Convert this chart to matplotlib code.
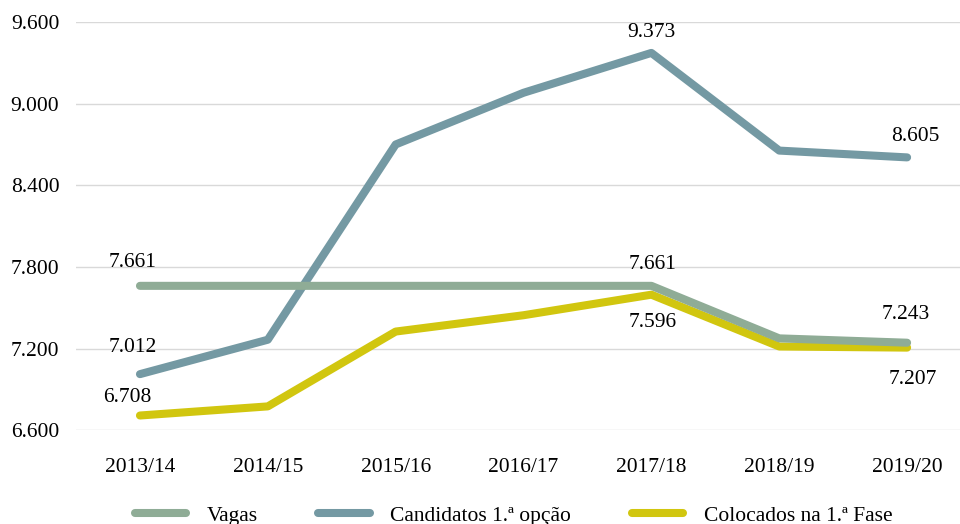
from matplotlib import pyplot as plt

plt.rcParams['font.family'] = ['Liberation Serif', 'DejaVu Serif']

anos = ['2013/14', '2014/15', '2015/16', '2016/17', '2017/18', '2018/19', '2019/20']
vagas = [7661, 7661, 7661, 7661, 7661, 7275, 7243]
candidatos = [7012, 7265, 8700, 9080, 9373, 8655, 8605]
colocados = [6708, 6775, 7325, 7445, 7596, 7215, 7207]

y_ticks = [6600, 7200, 7800, 8400, 9000, 9600]

cor_vagas = '#8fac96'
cor_cand = '#7499a3'
cor_col = '#d1c60f'

fig = plt.figure(figsize=(9.6, 5.24), dpi=100)
ax = fig.add_axes([0.0792, 0.179, 0.9323, 0.779])

x = list(range(len(anos)))
lw = 5.8
ax.plot(x, colocados, color=cor_col, lw=lw, solid_capstyle='round', solid_joinstyle='round', zorder=2)
ax.plot(x, candidatos, color=cor_cand, lw=lw, solid_capstyle='round', solid_joinstyle='round', zorder=3)
ax.plot(x, vagas, color=cor_vagas, lw=lw, solid_capstyle='round', solid_joinstyle='round', zorder=4)

def fmt(v):
    return f'{v:,}'.replace(',', '.')

fs = 15.5

def rotulo(i, serie, dx, dy):
    ax.annotate(fmt(serie[i]), (i, serie[i]), xytext=(dx, dy), textcoords='offset points',
                ha='center', va='center', fontsize=fs)

# value labels
rotulo(0, vagas, -5, 16.5)
rotulo(4, vagas, 1, 15.5)
rotulo(6, vagas, -1, 20)
rotulo(0, candidatos, -5, 19)
rotulo(4, candidatos, 0, 15)
rotulo(6, candidatos, 6, 15)
rotulo(0, colocados, -9, 13)
rotulo(4, colocados, 1, -20)
rotulo(6, colocados, 4, -23)

ax.set_xlim(-0.5, 6.5)
ax.set_ylim(6600, 9600)
ax.set_yticks(y_ticks)
ax.set_yticklabels([fmt(v) for v in y_ticks], fontsize=fs)
ax.set_xticks(x)
ax.set_xticklabels(anos, fontsize=fs)
ax.tick_params(length=0)
ax.tick_params(axis='x', pad=20)
ax.tick_params(axis='y', pad=12)
ax.grid(axis='y', color='#d9d9d9', lw=1)
ax.set_axisbelow(True)
for s in ax.spines.values():
    s.set_visible(False)

handles = [plt.Line2D([], [], color=c, lw=lw, solid_capstyle='round') for c in (cor_vagas, cor_cand, cor_col)]
fig.legend(handles, ['Vagas', 'Candidatos 1.ª opção', 'Colocados na 1.ª Fase'],
           loc='center', bbox_to_anchor=(0.535, 0.016), ncol=3, frameon=False,
           fontsize=fs, handlelength=2.4, handletextpad=0.95, columnspacing=2.8,
           borderpad=0, borderaxespad=0)

plt.savefig('out.png', dpi=100)
